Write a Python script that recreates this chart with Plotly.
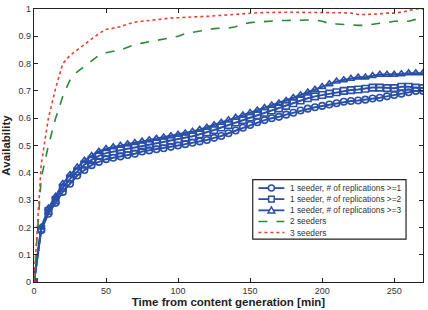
import plotly.graph_objects as go

t = list(range(0, 275, 5))

rep1 = [0, 0.19, 0.25, 0.29, 0.33, 0.36, 0.39, 0.41, 0.428, 0.44, 0.45, 0.455, 0.46, 0.465, 0.47,
        0.478, 0.482, 0.486, 0.49, 0.495, 0.50, 0.505, 0.51, 0.515, 0.52, 0.528, 0.535, 0.545, 0.555,
        0.565, 0.575, 0.585, 0.593, 0.60, 0.605, 0.613, 0.62, 0.628, 0.635, 0.64, 0.645, 0.65, 0.655,
        0.66, 0.663, 0.665, 0.668, 0.672, 0.675, 0.68, 0.685, 0.69, 0.695, 0.70, 0.70]
rep2 = [0, 0.195, 0.26, 0.30, 0.345, 0.378, 0.405, 0.43, 0.447, 0.462, 0.472, 0.478, 0.483, 0.488, 0.493,
        0.498, 0.503, 0.508, 0.513, 0.518, 0.523, 0.528, 0.534, 0.541, 0.548, 0.557, 0.566, 0.575, 0.584,
        0.593, 0.602, 0.611, 0.62, 0.628, 0.636, 0.645, 0.655, 0.665, 0.673, 0.68, 0.685, 0.69, 0.695,
        0.70, 0.703, 0.705, 0.708, 0.712, 0.712, 0.71, 0.71, 0.715, 0.715, 0.712, 0.71]
rep3 = [0, 0.20, 0.27, 0.313, 0.36, 0.393, 0.42, 0.445, 0.462, 0.478, 0.488, 0.494, 0.50, 0.505, 0.51,
        0.515, 0.52, 0.525, 0.53, 0.535, 0.54, 0.545, 0.551, 0.558, 0.566, 0.575, 0.584, 0.593, 0.602,
        0.611, 0.62, 0.629, 0.638, 0.647, 0.655, 0.664, 0.675, 0.685, 0.695, 0.705, 0.715, 0.725, 0.735,
        0.74, 0.745, 0.75, 0.75, 0.755, 0.76, 0.76, 0.76, 0.762, 0.765, 0.765, 0.765]
seed2 = [0, 0.38, 0.50, 0.60, 0.68, 0.74, 0.77, 0.79, 0.81, 0.83, 0.84, 0.845, 0.85, 0.86, 0.87,
         0.875, 0.88, 0.885, 0.89, 0.895, 0.90, 0.91, 0.915, 0.92, 0.925, 0.928, 0.93, 0.93, 0.935,
         0.945, 0.95, 0.952, 0.955, 0.958, 0.958, 0.958, 0.958, 0.96, 0.96, 0.96, 0.955, 0.947, 0.945,
         0.943, 0.94, 0.94, 0.94, 0.945, 0.948, 0.95, 0.955, 0.955, 0.955, 0.962, 0.97]
seed3 = [0, 0.43, 0.60, 0.71, 0.80, 0.83, 0.85, 0.87, 0.89, 0.91, 0.925, 0.93, 0.935, 0.945, 0.952,
         0.955, 0.958, 0.962, 0.965, 0.967, 0.968, 0.97, 0.97, 0.972, 0.973, 0.975, 0.977, 0.98, 0.982,
         0.984, 0.985, 0.986, 0.987, 0.988, 0.988, 0.988, 0.988, 0.988, 0.988, 0.988, 0.988, 0.987, 0.987,
         0.986, 0.985, 0.98, 0.98, 0.98, 0.982, 0.985, 0.985, 0.988, 0.995, 1.0, 1.0]

names = ["1 seeder, # of replications >=1", "1 seeder, # of replications >=2",
         "1 seeder, # of replications >=3", "2 seeders", "3 seeders"]
x_ticks = [0, 50, 100, 150, 200, 250]
y_ticks = [0, 0.1, 0.2, 0.3, 0.4, 0.5, 0.6, 0.7, 0.8, 0.9, 1]
y_ticktext = ["0", "0.1", "0.2", "0.3", "0.4", "0.5", "0.6", "0.7", "0.8", "0.9", "1"]

blue = "#2a4fa8"
green = "#2b8a3a"
red = "#e8402f"
FONT = "Liberation Sans, Arial"

fig = go.Figure()
for ys, sym, nm in [(rep1, "circle-open", names[0]), (rep2, "square-open", names[1]),
                    (rep3, "triangle-up-open", names[2])]:
    fig.add_trace(go.Scatter(x=t, y=ys, name=nm, mode="lines+markers", showlegend=False,
                             line=dict(color=blue, width=2),
                             marker=dict(symbol=sym, size=6.5, color=blue, line=dict(width=1.6, color=blue))))
fig.add_trace(go.Scatter(x=t, y=seed2, name=names[3], mode="lines", showlegend=False,
                         line=dict(color=green, width=1.6, dash="dash")))
fig.add_trace(go.Scatter(x=t, y=seed3, name=names[4], mode="lines", showlegend=False,
                         line=dict(color=red, width=1.6, dash="dot")))

# compact legend drawn in paper coordinates
shapes = [dict(type="rect", xref="paper", yref="paper", x0=0.5623, x1=0.9564, y0=0.157, y1=0.375,
               fillcolor="white", line=dict(color="#222", width=1.2), layer="above")]
annotations = []
row_y = [0.344, 0.3036, 0.2625, 0.222, 0.181]
lx0, lx1, mx, tx = 0.5769, 0.6436, 0.6103, 0.6538
styles = [(blue, "solid", "circle"), (blue, "solid", "square"), (blue, "solid", "triangle"),
          (green, "dash", None), (red, "dot", None)]
for ry, nm, (col, dash, mk) in zip(row_y, names, styles):
    shapes.append(dict(type="line", xref="paper", yref="paper", x0=lx0, x1=lx1, y0=ry, y1=ry,
                       line=dict(color=col, width=1.8 if mk else 1.5, dash=dash), layer="above"))
    if mk == "circle":
        shapes.append(dict(type="circle", xref="paper", yref="paper", xsizemode="pixel", ysizemode="pixel",
                           xanchor=mx, yanchor=ry, x0=-3, x1=3, y0=-3, y1=3,
                           fillcolor="white", line=dict(color=col, width=1.5), layer="above"))
    elif mk == "square":
        shapes.append(dict(type="rect", xref="paper", yref="paper", xsizemode="pixel", ysizemode="pixel",
                           xanchor=mx, yanchor=ry, x0=-2.8, x1=2.8, y0=-2.8, y1=2.8,
                           fillcolor="white", line=dict(color=col, width=1.5), layer="above"))
    elif mk == "triangle":
        shapes.append(dict(type="path", xref="paper", yref="paper", xsizemode="pixel", ysizemode="pixel",
                           xanchor=mx, yanchor=ry, path="M-3.4,-2.6 L3.4,-2.6 L0,3.4 Z",
                           fillcolor="white", line=dict(color=col, width=1.5), layer="above"))
    annotations.append(dict(xref="paper", yref="paper", x=tx, y=ry, text=nm, showarrow=False,
                            xanchor="left", yanchor="middle",
                            font=dict(family=FONT, size=8.3, color="#333")))

axis_common = dict(showgrid=False, zeroline=False, ticks="inside", ticklen=4, tickcolor="#222",
                   showline=True, linecolor="#222", linewidth=1.3, mirror="ticks",
                   tickfont=dict(family=FONT, size=9, color="#333"))
fig.update_xaxes(range=[0, 270], tickvals=x_ticks,
                 title=dict(text="<b>Time from content generation [min]</b>", standoff=2,
                            font=dict(family=FONT, size=11.5, color="#222")),
                 **axis_common)
fig.update_yaxes(range=[0, 1], tickvals=y_ticks, ticktext=y_ticktext,
                 title=dict(text="<b>Availability</b>", standoff=6,
                            font=dict(family=FONT, size=11.5, color="#222")),
                 **axis_common)
fig.update_layout(width=428, height=310, margin=dict(l=34, r=4, t=4, b=26),
                  paper_bgcolor="white", plot_bgcolor="white", showlegend=False,
                  shapes=shapes, annotations=annotations)
fig.write_html("out.html")
